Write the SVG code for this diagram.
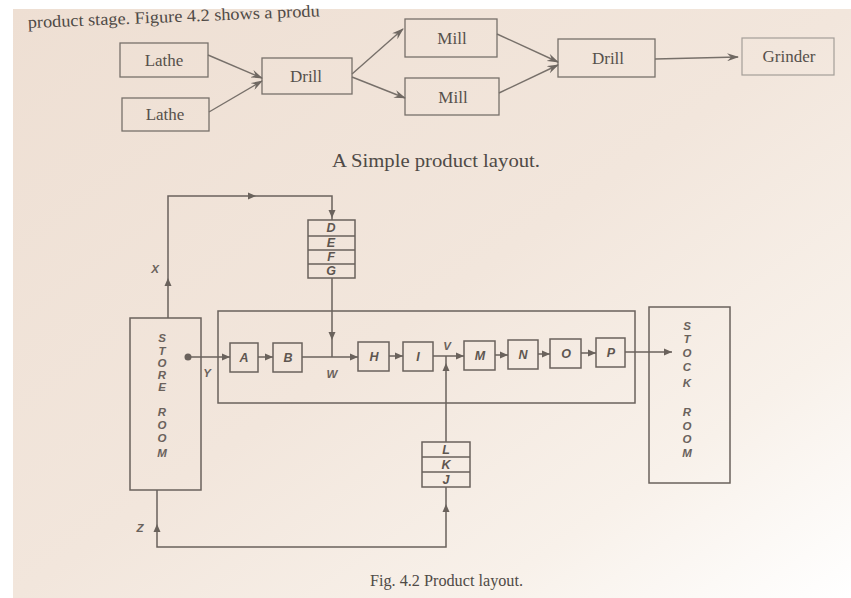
<svg xmlns="http://www.w3.org/2000/svg" width="851" height="598" viewBox="0 0 851 598">
<defs>
<linearGradient id="paper" x1="0" y1="0" x2="1" y2="1">
<stop offset="0" stop-color="#eedfd3"/>
<stop offset="0.5" stop-color="#f2e6dc"/>
<stop offset="0.78" stop-color="#f8f1ea"/>
<stop offset="1" stop-color="#ffffff"/>
</linearGradient>
<marker id="barb" viewBox="0 0 12 8" refX="11" refY="4" markerWidth="12" markerHeight="8" markerUnits="userSpaceOnUse" orient="auto">
<path d="M0,0 L12,4 L0,8 L4,4 z" fill="#6f6862"/>
</marker>
<path id="ah" d="M0,0 L-8,-3.5 L-8,3.5 z" fill="#6a625c"/>
</defs>
<style>
.tbox{fill:none;stroke:#77706a;stroke-width:1.3}
.ttxt{font-family:"Liberation Serif","Times New Roman",serif;font-size:17px;fill:#56504b;text-anchor:middle}
.tline{fill:none;stroke:#77706a;stroke-width:1.4}
.box{fill:none;stroke:#6a625c;stroke-width:1.5}
.line{fill:none;stroke:#6a625c;stroke-width:1.5}
.let{font-family:"Liberation Sans",Arial,sans-serif;font-size:12.5px;font-weight:bold;font-style:italic;fill:#5e5650;text-anchor:middle}
.vlet{font-family:"Liberation Sans",Arial,sans-serif;font-size:11.5px;font-weight:bold;font-style:italic;fill:#6a625c;text-anchor:middle}
.cap{font-family:"Liberation Serif","Times New Roman",serif;fill:#4f4a46}
</style>
<rect x="0" y="0" width="851" height="598" fill="#ffffff"/>
<rect x="13" y="9" width="838" height="589" fill="url(#paper)"/>

<text class="cap" x="28" y="28" font-size="17" fill="#4e4843" textLength="292" lengthAdjust="spacingAndGlyphs" transform="rotate(-2.3 28 28)">product stage. Figure 4.2 shows a produ</text>

<g id="top-diagram">
<g id="lathe1"><rect class="tbox" x="120" y="43" width="88" height="34"/><text class="ttxt" x="164" y="66">Lathe</text></g>
<g id="lathe2"><rect class="tbox" x="122" y="98" width="87" height="33"/><text class="ttxt" x="165" y="120">Lathe</text></g>
<g id="drill1"><rect class="tbox" x="262" y="58" width="90" height="36"/><text class="ttxt" x="306" y="82">Drill</text></g>
<g id="mill1"><rect class="tbox" x="405" y="19" width="92" height="38"/><text class="ttxt" x="452" y="44">Mill</text></g>
<g id="mill2"><rect class="tbox" x="405" y="78" width="94" height="37"/><text class="ttxt" x="453" y="103">Mill</text></g>
<g id="drill2"><rect class="tbox" x="558" y="39" width="97" height="38"/><text class="ttxt" x="608" y="64">Drill</text></g>
<g id="grinder"><rect x="742" y="38" width="92" height="37" fill="none" stroke="#a49e98" stroke-width="1.2"/><text class="ttxt" x="789" y="62" fill="#8a847f">Grinder</text></g>
<g id="top-connectors">
<path class="tline" d="M208,55 L262,78" marker-end="url(#barb)"/>
<path class="tline" d="M209,112 L262,81" marker-end="url(#barb)"/>
<path class="tline" d="M352,74 L403,29" marker-end="url(#barb)"/>
<path class="tline" d="M352,77 L405,98" marker-end="url(#barb)"/>
<path class="tline" d="M497,34 L558,62" marker-end="url(#barb)"/>
<path class="tline" d="M499,93 L558,65" marker-end="url(#barb)"/>
<path class="tline" d="M655,59 L738,57" marker-end="url(#barb)"/>
</g>
</g>
<text class="cap" x="332" y="167" font-size="18" textLength="208" lengthAdjust="spacingAndGlyphs">A Simple product layout.</text>

<g id="bottom-diagram">
<g id="process-area"><rect class="box" x="218" y="311" width="417" height="92"/></g>
<g id="store-room"><rect class="box" x="130" y="318" width="71" height="172"/>
<text class="vlet"><tspan x="162" y="342">S</tspan><tspan x="162" y="355">T</tspan><tspan x="162" y="367">O</tspan><tspan x="162" y="379">R</tspan><tspan x="162" y="391">E</tspan><tspan x="162" y="416">R</tspan><tspan x="162" y="429">O</tspan><tspan x="162" y="442">O</tspan><tspan x="162" y="457">M</tspan></text></g>
<g id="stock-room"><rect class="box" x="649" y="307" width="81" height="176"/>
<text class="vlet"><tspan x="687" y="330">S</tspan><tspan x="687" y="343">T</tspan><tspan x="687" y="357">O</tspan><tspan x="687" y="371">C</tspan><tspan x="687" y="387">K</tspan><tspan x="687" y="416">R</tspan><tspan x="687" y="430">O</tspan><tspan x="687" y="443">O</tspan><tspan x="687" y="457">M</tspan></text></g>
<g id="defg"><rect class="box" x="308" y="220" width="47" height="58"/>
<path class="line" d="M308,236 H355 M308,250 H355 M308,264 H355"/>
<text class="let" x="331" y="232">D</text><text class="let" x="331" y="247">E</text><text class="let" x="331" y="261">F</text><text class="let" x="331" y="275">G</text></g>
<g id="lkj"><rect class="box" x="422" y="442" width="48" height="45"/>
<path class="line" d="M422,457 H470 M422,472 H470"/>
<text class="let" x="446" y="454">L</text><text class="let" x="446" y="469">K</text><text class="let" x="446" y="484">J</text></g>
<g id="A"><rect class="box" x="230" y="343" width="28" height="29"/><text class="let" x="244" y="362">A</text></g>
<g id="B"><rect class="box" x="273" y="343" width="29" height="29"/><text class="let" x="288" y="362">B</text></g>
<g id="H"><rect class="box" x="358" y="342" width="31" height="29"/><text class="let" x="374" y="361">H</text></g>
<g id="I"><rect class="box" x="403" y="342" width="30" height="29"/><text class="let" x="418" y="361">I</text></g>
<g id="M"><rect class="box" x="464" y="341" width="31" height="29"/><text class="let" x="480" y="360">M</text></g>
<g id="N"><rect class="box" x="508" y="340" width="30" height="29"/><text class="let" x="523" y="359">N</text></g>
<g id="O"><rect class="box" x="550" y="339" width="31" height="29"/><text class="let" x="566" y="358">O</text></g>
<g id="P"><rect class="box" x="596" y="338" width="29" height="29"/><text class="let" x="611" y="357">P</text></g>

<g id="connectors">
<path class="line" d="M168,318 V196 H332 V220"/>
<path class="line" d="M332,278 V357"/>
<circle cx="188" cy="357" r="3.5" fill="#6a625c"/>
<path class="line" d="M188,357 H230"/>
<path class="line" d="M258,357 H273"/>
<path class="line" d="M302,357 H358"/>
<path class="line" d="M389,356 H403"/>
<path class="line" d="M433,356 H464"/>
<path class="line" d="M495,355 H508"/>
<path class="line" d="M538,354 H550"/>
<path class="line" d="M581,353 H596"/>
<path class="line" d="M625,352 H672"/>
<path class="line" d="M446,442 V356"/>
<path class="line" d="M157,490 V547 H446 V487"/>
<use href="#ah" transform="translate(168,278) rotate(-90)"/>
<use href="#ah" transform="translate(256,196)"/>
<use href="#ah" transform="translate(332,218) rotate(90)"/>
<use href="#ah" transform="translate(332,340) rotate(90)"/>
<use href="#ah" transform="translate(230,357)"/>
<use href="#ah" transform="translate(273,357)"/>
<use href="#ah" transform="translate(358,357)"/>
<use href="#ah" transform="translate(403,356)"/>
<use href="#ah" transform="translate(464,356)"/>
<use href="#ah" transform="translate(508,355)"/>
<use href="#ah" transform="translate(550,354)"/>
<use href="#ah" transform="translate(596,353)"/>
<use href="#ah" transform="translate(672,352)"/>
<use href="#ah" transform="translate(446,363) rotate(-90)"/>
<use href="#ah" transform="translate(446,504) rotate(-90)"/>
<use href="#ah" transform="translate(157,524) rotate(-90)"/>
</g>
<g id="labels">
<text class="vlet" x="155" y="273">X</text>
<text class="vlet" x="207" y="377">Y</text>
<text class="vlet" x="332" y="378">W</text>
<text class="vlet" x="447" y="350">V</text>
<text class="vlet" x="140" y="532">Z</text>
</g>
</g>
<text class="cap" x="370" y="586" font-size="16" textLength="153" lengthAdjust="spacingAndGlyphs">Fig. 4.2 Product layout.</text>
</svg>
